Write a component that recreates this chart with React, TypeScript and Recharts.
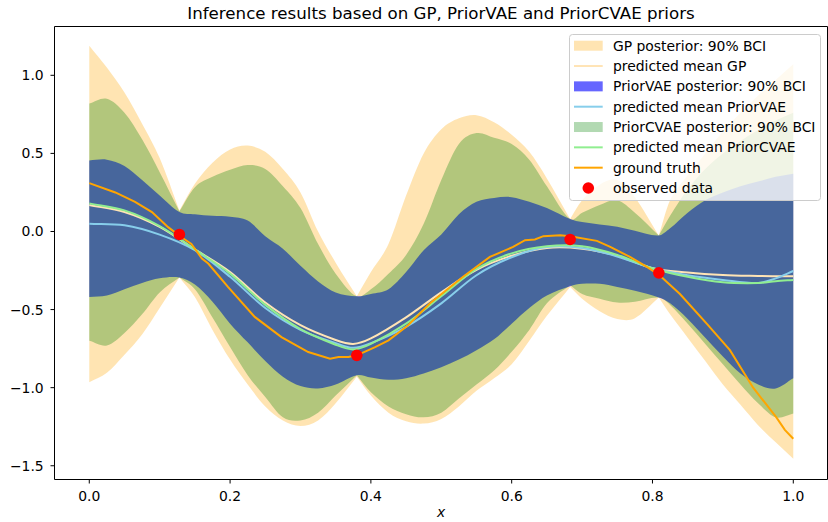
import React from 'react';
import { ComposedChart, Area, Line, Scatter, XAxis, YAxis } from 'recharts';

// ---------- data ----------
const bandX = [0, 0.025, 0.05, 0.075, 0.1, 0.128, 0.15, 0.175, 0.2, 0.225, 0.25, 0.275, 0.3, 0.325, 0.35, 0.38, 0.4, 0.425, 0.45, 0.475, 0.5, 0.525, 0.55, 0.575, 0.6, 0.625, 0.65, 0.683, 0.7, 0.725, 0.75, 0.775, 0.809, 0.825, 0.85, 0.875, 0.9, 0.925, 0.95, 0.975, 1.0];

const gpUpper = [1.19, 1.05, 0.89, 0.69, 0.47, 0.135, 0.305, 0.44, 0.525, 0.55, 0.51, 0.4, 0.25, 0.0, -0.2, -0.415, -0.26, -0.08, 0.23, 0.5, 0.655, 0.725, 0.745, 0.7, 0.62, 0.51, 0.34, 0.08, 0.2, 0.3, 0.33, 0.22, -0.026, 0.2, 0.36, 0.5, 0.64, 0.76, 0.87, 0.97, 1.07];
const gpLower = [-0.965, -0.905, -0.79, -0.66, -0.49, -0.295, -0.42, -0.63, -0.82, -0.98, -1.12, -1.21, -1.245, -1.21, -1.1, -0.93, -1.05, -1.16, -1.215, -1.23, -1.2, -1.12, -1.02, -0.94, -0.85, -0.7, -0.54, -0.355, -0.43, -0.51, -0.56, -0.555, -0.423, -0.53, -0.68, -0.83, -0.98, -1.11, -1.24, -1.35, -1.455];

const vaeUpper = [0.455, 0.46, 0.42, 0.33, 0.23, 0.125, 0.11, 0.1, 0.095, 0.07, -0.03, -0.11, -0.22, -0.32, -0.39, -0.415, -0.4, -0.37, -0.26, -0.12, -0.02, 0.11, 0.19, 0.215, 0.22, 0.19, 0.15, 0.08, 0.06, 0.045, 0.03, 0.005, -0.026, 0.02, 0.12, 0.2, 0.25, 0.29, 0.32, 0.35, 0.37];
const vaeLower = [-0.42, -0.41, -0.37, -0.33, -0.3, -0.295, -0.34, -0.45, -0.59, -0.71, -0.83, -0.93, -0.99, -1.005, -0.98, -0.92, -0.935, -0.95, -0.94, -0.91, -0.87, -0.82, -0.76, -0.69, -0.59, -0.49, -0.41, -0.35, -0.335, -0.335, -0.355, -0.38, -0.423, -0.46, -0.56, -0.68, -0.8, -0.91, -0.98, -1.005, -0.94];

const cvaeUpper = [0.82, 0.85, 0.76, 0.59, 0.38, 0.13, 0.284, 0.35, 0.395, 0.425, 0.4, 0.29, 0.15, -0.08, -0.27, -0.415, -0.37, -0.27, -0.15, 0.05, 0.33, 0.56, 0.63, 0.6, 0.56, 0.46, 0.29, 0.08, 0.12, 0.17, 0.2, 0.12, -0.026, 0.1, 0.27, 0.4, 0.5, 0.58, 0.65, 0.71, 0.76];
const cvaeLower = [-0.7, -0.73, -0.65, -0.53, -0.39, -0.295, -0.37, -0.55, -0.74, -0.92, -1.06, -1.19, -1.21, -1.16, -1.05, -0.92, -1.03, -1.12, -1.17, -1.19, -1.16, -1.07, -0.98, -0.89, -0.77, -0.63, -0.46, -0.345, -0.4, -0.43, -0.455, -0.45, -0.423, -0.47, -0.59, -0.72, -0.85, -0.98, -1.1, -1.19, -1.165];

const meanX = [0, 0.05, 0.1, 0.15, 0.2, 0.25, 0.3, 0.35, 0.375, 0.4, 0.45, 0.5, 0.55, 0.6, 0.65, 0.7, 0.75, 0.8, 0.85, 0.9, 0.95, 0.975, 1.0];
const gpMean = [0.17, 0.125, 0.03, -0.115, -0.26, -0.455, -0.6, -0.695, -0.72, -0.685, -0.55, -0.39, -0.245, -0.155, -0.105, -0.11, -0.155, -0.235, -0.262, -0.278, -0.285, -0.287, -0.287];
const vaeMean = [0.05, 0.04, -0.02, -0.12, -0.29, -0.49, -0.63, -0.715, -0.745, -0.715, -0.61, -0.46, -0.28, -0.165, -0.1, -0.105, -0.16, -0.235, -0.28, -0.31, -0.33, -0.3, -0.253];
const cvaeMean = [0.18, 0.135, 0.035, -0.115, -0.27, -0.47, -0.625, -0.725, -0.755, -0.72, -0.59, -0.415, -0.24, -0.14, -0.095, -0.095, -0.15, -0.235, -0.29, -0.325, -0.33, -0.318, -0.31];

const truthX = [0, 0.037, 0.065, 0.089, 0.112, 0.131, 0.145, 0.16, 0.169, 0.197, 0.235, 0.273, 0.311, 0.342, 0.354, 0.368, 0.38, 0.406, 0.425, 0.453, 0.484, 0.531, 0.569, 0.602, 0.619, 0.633, 0.645, 0.669, 0.683, 0.721, 0.74, 0.768, 0.792, 0.81, 0.839, 0.877, 0.91, 0.943, 0.976, 0.988, 1.0];
const truthY = [0.31, 0.25, 0.19, 0.124, 0.028, -0.037, -0.08, -0.173, -0.205, -0.355, -0.547, -0.676, -0.772, -0.814, -0.804, -0.804, -0.793, -0.74, -0.697, -0.6, -0.46, -0.29, -0.163, -0.099, -0.056, -0.051, -0.03, -0.024, -0.03, -0.06, -0.099, -0.163, -0.227, -0.28, -0.4, -0.59, -0.76, -1.0, -1.19, -1.27, -1.327];

const obsX = [0.128, 0.38, 0.683, 0.809];
const obsY = [-0.019, -0.793, -0.051, -0.265];

const xTicks = [0, 0.2, 0.4, 0.6, 0.8, 1.0];
const yTicks = [-1.5, -1.0, -0.5, 0.0, 0.5, 1.0];

const titleText = 'Inference results based on GP, PriorVAE and PriorCVAE priors';
const legendItems = [
  { label: 'GP posterior: 90% BCI', kind: 'patch', color: '#FFA500', opacity: 0.3 },
  { label: 'predicted mean GP', kind: 'line', color: '#FFE4B5', opacity: 1 },
  { label: 'PriorVAE posterior: 90% BCI', kind: 'patch', color: '#0000FF', opacity: 0.6 },
  { label: 'predicted mean PriorVAE', kind: 'line', color: '#87CEEB', opacity: 1 },
  { label: 'PriorCVAE posterior: 90% BCI', kind: 'patch', color: '#008000', opacity: 0.3 },
  { label: 'predicted mean PriorCVAE', kind: 'line', color: '#90EE90', opacity: 1 },
  { label: 'ground truth', kind: 'line', color: '#FFA500', opacity: 1 },
  { label: 'observed data', kind: 'dot', color: '#FF0000', opacity: 1 },
];

// ---------- derived tables ----------
const bandData = bandX.map((x, i) => ({
  x,
  gp: [gpLower[i], gpUpper[i]],
  vae: [vaeLower[i], vaeUpper[i]],
  cvae: [cvaeLower[i], cvaeUpper[i]],
}));
const meanData = meanX.map((x, i) => ({ x, gp: gpMean[i], vae: vaeMean[i], cvae: cvaeMean[i] }));
const truthData = truthX.map((x, i) => ({ x, y: truthY[i] }));
const obsData = obsX.map((x, i) => ({ x, y: obsY[i] }));

// smooth cubic Hermite curve that keeps sharp corners at V-shaped pinch points
const smoothKink = (context: any) => {
  let line = NaN;
  let pts: number[][] = [];
  const draw = () => {
    const n = pts.length;
    if (n === 0) return;
    const [x0, y0] = pts[0];
    if (line) context.lineTo(x0, y0);
    else context.moveTo(x0, y0);
    if (n === 1) return;
    const s: number[] = [];
    for (let i = 0; i < n - 1; i++) {
      const dx = pts[i + 1][0] - pts[i][0];
      s.push(dx === 0 ? 0 : (pts[i + 1][1] - pts[i][1]) / dx);
    }
    const mL: number[] = [];
    const mR: number[] = [];
    for (let i = 0; i < n; i++) {
      if (i === 0) { mL[i] = mR[i] = s[0]; continue; }
      if (i === n - 1) { mL[i] = mR[i] = s[n - 2]; continue; }
      const a = s[i - 1];
      const b = s[i];
      if (a * b < 0 && Math.abs(a) > 0.6 && Math.abs(b) > 0.6) {
        mL[i] = a;
        mR[i] = b;
      } else {
        const dx = pts[i + 1][0] - pts[i - 1][0];
        const m = dx === 0 ? 0 : (pts[i + 1][1] - pts[i - 1][1]) / dx;
        mL[i] = mR[i] = m;
      }
    }
    for (let i = 0; i < n - 1; i++) {
      const [xa, ya] = pts[i];
      const [xb, yb] = pts[i + 1];
      const h = xb - xa;
      context.bezierCurveTo(xa + h / 3, ya + (mR[i] * h) / 3, xb - h / 3, yb - (mL[i + 1] * h) / 3, xb, yb);
    }
  };
  return {
    areaStart() { line = 0; },
    areaEnd() { line = NaN; },
    lineStart() { pts = []; },
    lineEnd() {
      draw();
      if (line) context.closePath();
      line = 1 - line;
    },
    point(x: number, y: number) { pts.push([+x, +y]); },
  };
};

const FONT = "'DejaVu Sans', sans-serif";
const FS = 13.9;

const fmt = (v: number) => (v < 0 ? '\u2212' + Math.abs(v).toFixed(1) : v.toFixed(1));

const XTick = (props: any) => {
  const { x, y, payload } = props;
  return (
    <text x={x} y={y + 17} textAnchor="middle" fontSize={FS} fontFamily={FONT} fill="#000">
      {fmt(payload.value)}
    </text>
  );
};
const YTick = (props: any) => {
  const { x, y, payload } = props;
  return (
    <text x={x - 6.8} y={y + 5} textAnchor="end" fontSize={FS} fontFamily={FONT} fill="#000">
      {fmt(payload.value)}
    </text>
  );
};

const Dot = (props: any) => {
  const { cx, cy } = props;
  return <circle cx={cx} cy={cy} r={5.8} fill="#FF0000" />;
};

const PL = 54.5, PR = 827.5, PT = 26.5, PB = 479.5;
const LEG_L = 569;
const LEG_T = 34;
const LEG_W = 252;
const LEG_H = 167;

export default function App() {
  const xDomain: [number, number] = [-0.0494, 1.0486];
  const yDomain: [number, number] = [-1.588, 1.3125];
  return (
    <div style={{ position: 'absolute', left: 0, top: 0, width: 828, height: 522, background: '#fff' }}>
      <ComposedChart width={828} height={522} margin={{ top: PT, right: 828 - PR, bottom: 0, left: 0 }}>
        <XAxis
          dataKey="x"
          type="number"
          domain={xDomain}
          allowDataOverflow
          ticks={xTicks}
          tick={<XTick />}
          tickSize={4}
          tickMargin={0}
          height={522 - PB}
          axisLine={{ stroke: '#000', strokeWidth: 1 }}
          tickLine={{ stroke: '#000', strokeWidth: 1 }}
          interval={0}
        />
        <YAxis
          type="number"
          domain={yDomain}
          allowDataOverflow
          ticks={yTicks}
          tick={<YTick />}
          tickSize={4}
          tickMargin={0}
          width={PL}
          axisLine={{ stroke: '#000', strokeWidth: 1 }}
          tickLine={{ stroke: '#000', strokeWidth: 1 }}
          interval={0}
        />
        <Area data={bandData} dataKey="gp" type={smoothKink as any} stroke="none" fill="#FFA500" fillOpacity={0.3} isAnimationActive={false} activeDot={false} />
        <Area data={bandData} dataKey="vae" type={smoothKink as any} stroke="none" fill="#0000FF" fillOpacity={0.6} isAnimationActive={false} activeDot={false} />
        <Area data={bandData} dataKey="cvae" type={smoothKink as any} stroke="none" fill="#008000" fillOpacity={0.3} isAnimationActive={false} activeDot={false} />
        <Line data={meanData} dataKey="gp" type={smoothKink as any} stroke="#FFE4B5" strokeWidth={2} dot={false} activeDot={false} isAnimationActive={false} />
        <Line data={meanData} dataKey="vae" type={smoothKink as any} stroke="#87CEEB" strokeWidth={2} dot={false} activeDot={false} isAnimationActive={false} />
        <Line data={meanData} dataKey="cvae" type={smoothKink as any} stroke="#90EE90" strokeWidth={2} dot={false} activeDot={false} isAnimationActive={false} />
        <Line data={truthData} dataKey="y" type="linear" stroke="#FFA500" strokeWidth={2} dot={false} activeDot={false} isAnimationActive={false} />
        <Scatter data={obsData} dataKey="y" shape={<Dot />} isAnimationActive={false} />
      </ComposedChart>
      <svg width={828} height={522} style={{ position: 'absolute', left: 0, top: 0, pointerEvents: 'none' }}>
        <line x1={PL} x2={PR} y1={PT} y2={PT} stroke="#000" strokeWidth={1} />
        <line x1={PR} x2={PR} y1={PT} y2={PB} stroke="#000" strokeWidth={1} />
        <text x={(PL + PR) / 2} y={19} textAnchor="middle" fontSize={16.67} fontFamily={FONT} fill="#000">
          {titleText}
        </text>
        <text x={(PL + PR) / 2} y={517} textAnchor="middle" fontSize={FS} fontStyle="italic" fontFamily={FONT} fill="#000">
          x
        </text>
        <g transform={`translate(${LEG_L},${LEG_T})`}>
          <rect x={0.5} y={0.5} width={LEG_W - 1} height={LEG_H - 1} rx={3} ry={3} fill="#fff" fillOpacity={0.8} stroke="#cccccc" strokeWidth={1} />
          {legendItems.map((it, i) => {
            const cy = 11.7 + 20.33 * i;
            return (
              <g key={it.label}>
                {it.kind === 'patch' && (
                  <rect x={5} y={cy - 5} width={28.7} height={10} fill={it.color} fillOpacity={it.opacity} />
                )}
                {it.kind === 'line' && (
                  <line x1={5} x2={33.7} y1={cy} y2={cy} stroke={it.color} strokeWidth={2} />
                )}
                {it.kind === 'dot' && <circle cx={19.3} cy={cy} r={5.8} fill={it.color} />}
                <text x={44} y={cy + 5} fontSize={FS} fontFamily={FONT} fill="#000">
                  {it.label}
                </text>
              </g>
            );
          })}
        </g>
      </svg>
    </div>
  );
}
